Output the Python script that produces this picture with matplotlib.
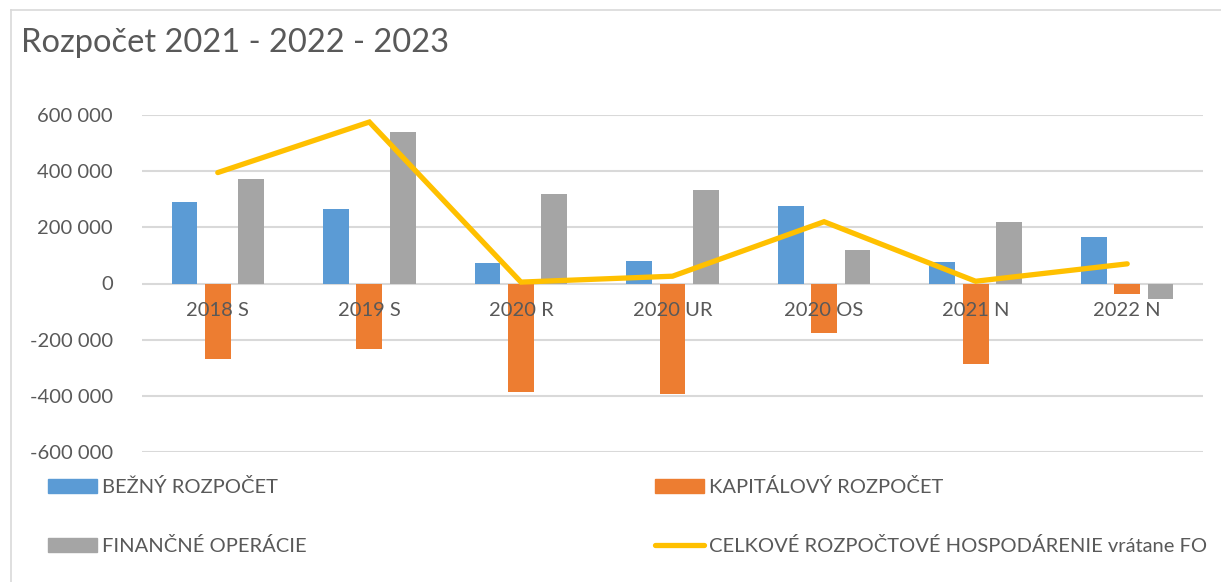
import numpy as np
import matplotlib
matplotlib.use('Agg')
import matplotlib.pyplot as plt
from matplotlib.patches import Patch
from matplotlib.lines import Line2D

plt.rcParams['font.family'] = ['Lato', 'DejaVu Sans']

# údaje
kategorie = ["2018 S", "2019 S", "2020 R", "2020 UR", "2020 OS", "2021 N", "2022 N"]
bezny = [289000, 265000, 72000, 80000, 275000, 75000, 165000]
kapitalovy = [-268000, -235000, -387000, -393000, -177000, -288000, -39000]
financne = [371000, 539000, 318000, 334000, 118000, 219000, -56000]
celkove = [395000, 575000, 5000, 26000, 220000, 8000, 70000]

c_blue = "#5B9BD5"
c_orange = "#ED7D31"
c_gray = "#A5A5A5"
c_yellow = "#FFC000"
c_text = "#595959"
c_grid = "#D9D9D9"

W, H = 1221, 582
fig = plt.figure(figsize=(W / 100, H / 100), dpi=100)

# okraj grafu (len hore a vľavo viditeľný)
fig.add_artist(Line2D([11 / W, 11 / W], [0, 1 - 10 / H], color=c_grid, lw=1.2, transform=fig.transFigure))
fig.add_artist(Line2D([11 / W, 1], [1 - 10 / H, 1 - 10 / H], color=c_grid, lw=1.2, transform=fig.transFigure))

ax = fig.add_axes([142 / W, 1 - 452 / H, (1203 - 142) / W, (452 - 115) / H])

x = np.arange(len(kategorie))
w = 0.17
off = 0.22
ax.bar(x - off, bezny, width=w, color=c_blue, zorder=2)
ax.bar(x, kapitalovy, width=w, color=c_orange, zorder=2)
ax.bar(x + off, financne, width=w, color=c_gray, zorder=2)
ax.plot(x, celkove, color=c_yellow, lw=3.8, solid_capstyle='round', solid_joinstyle='miter', zorder=3)

ax.set_xlim(-0.5, len(kategorie) - 0.5)
ax.set_ylim(-600000, 600000)
yt = np.arange(-600000, 600001, 200000)
ax.set_yticks(yt)
ax.set_yticklabels([f"{v:,}".replace(",", " ") for v in yt])
ax.yaxis.grid(True, color=c_grid, lw=1.5, zorder=0)
ax.set_axisbelow(True)
ax.tick_params(axis='y', length=0, pad=21, labelsize=14.5, labelcolor=c_text)
ax.set_xticks([])
for s in ax.spines.values():
    s.set_visible(False)

for i, k in enumerate(kategorie):
    ax.annotate(k, xy=(i, 0), xytext=(0, -19), textcoords='offset pixels',
                ha='center', va='top', fontsize=14.5, color=c_text, zorder=5)

fig.text(21 / W, 1 - 43 / H, "Rozpočet 2021 - 2022 - 2023", fontsize=23.5, color=c_text,
         ha='left', va='center')

# legenda v dvoch stĺpcoch
h_left = [Patch(color=c_blue), Patch(color=c_gray)]
l_left = ["BEŽNÝ ROZPOČET", "FINANČNÉ OPERÁCIE"]
h_right = [Patch(color=c_orange), Line2D([0], [0], color=c_yellow, lw=3.8, solid_capstyle='round')]
l_right = ["KAPITÁLOVÝ ROZPOČET", "CELKOVÉ ROZPOČTOVÉ HOSPODÁRENIE vrátane FO"]
kw = dict(frameon=False, fontsize=14.5, labelcolor=c_text, handlelength=2.45,
          handleheight=0.65, handletextpad=0.22, labelspacing=2.05, loc='upper left',
          borderaxespad=0, borderpad=0)
leg1 = fig.legend(h_left, l_left, bbox_to_anchor=(48 / W, 1 - 478 / H), **kw)
leg2 = fig.legend(h_right, l_right, bbox_to_anchor=(655 / W, 1 - 478 / H), **kw)

fig.savefig("out.png", dpi=100)
